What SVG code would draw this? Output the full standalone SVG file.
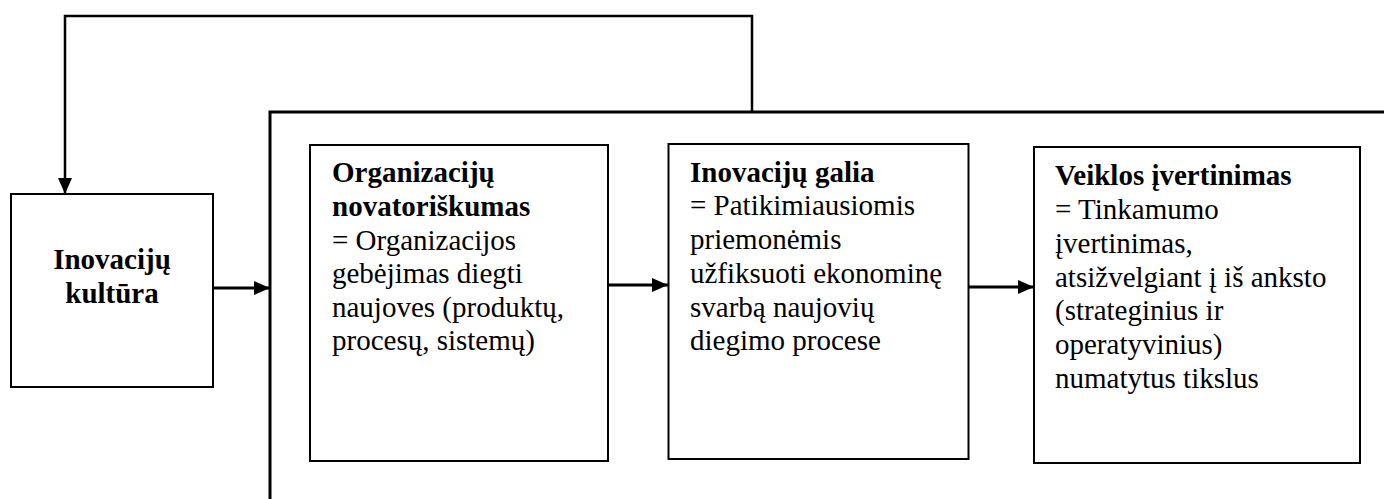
<svg xmlns="http://www.w3.org/2000/svg" width="1384" height="499" viewBox="0 0 1384 499">
<style>
.box{fill:#fff;stroke:#000;stroke-width:2}
.t{font-family:"Liberation Serif","Times New Roman",serif;font-size:29px;fill:#000}
.b{font-weight:bold}
.line{fill:none;stroke:#000;stroke-width:3}
.thin{fill:none;stroke:#000;stroke-width:2.5}
</style>
<defs>
<marker id="ah" markerWidth="16" markerHeight="14" refX="16" refY="7" orient="auto" markerUnits="userSpaceOnUse">
<path d="M0,0 L16,7 L0,14 Z" fill="#000"/>
</marker>
</defs>
<g id="connectors">
<path class="thin" d="M752,112 L752,16 L65,16 L65,194" marker-end="url(#ah)"/>
<path class="line" d="M213,288 L270,288" marker-end="url(#ah)"/>
<path class="line" d="M608,285 L668,285" marker-end="url(#ah)"/>
<path class="line" d="M968,287 L1034,287" marker-end="url(#ah)"/>
</g>
<g id="frame">
<path class="line" d="M1384,112 L270,112 L270,499"/>
</g>
<g id="node-kultura">
<rect class="box" x="11" y="194" width="202" height="193"/>
<text class="t b" text-anchor="middle"><tspan x="112" y="269">Inovacijų</tspan><tspan x="112" y="303">kultūra</tspan></text>
</g>
<g id="node-novatoriskumas">
<rect class="box" x="310" y="145" width="298" height="316"/>
<text class="t"><tspan class="b" x="332" y="182">Organizacijų</tspan><tspan class="b" x="332" y="216">novatoriškumas</tspan><tspan x="332" y="250">= Organizacijos</tspan><tspan x="332" y="283">gebėjimas diegti</tspan><tspan x="332" y="317">naujoves (produktų,</tspan><tspan x="332" y="350">procesų, sistemų)</tspan></text>
</g>
<g id="node-galia">
<rect class="box" x="668.5" y="144" width="300" height="315"/>
<text class="t"><tspan class="b" x="690" y="182">Inovacijų galia</tspan><tspan x="690" y="215">= Patikimiausiomis</tspan><tspan x="690" y="249">priemonėmis</tspan><tspan x="690" y="283">užfiksuoti ekonominę</tspan><tspan x="690" y="317">svarbą naujovių</tspan><tspan x="690" y="350">diegimo procese</tspan></text>
</g>
<g id="node-ivertinimas">
<rect class="box" x="1034" y="147" width="326" height="316"/>
<text class="t"><tspan class="b" x="1055" y="185">Veiklos įvertinimas</tspan><tspan x="1055" y="219">= Tinkamumo</tspan><tspan x="1055" y="253">įvertinimas,</tspan><tspan x="1055" y="287">atsižvelgiant į iš anksto</tspan><tspan x="1055" y="320">(strateginius ir</tspan><tspan x="1055" y="354">operatyvinius)</tspan><tspan x="1055" y="388">numatytus tikslus</tspan></text>
</g>
</svg>
